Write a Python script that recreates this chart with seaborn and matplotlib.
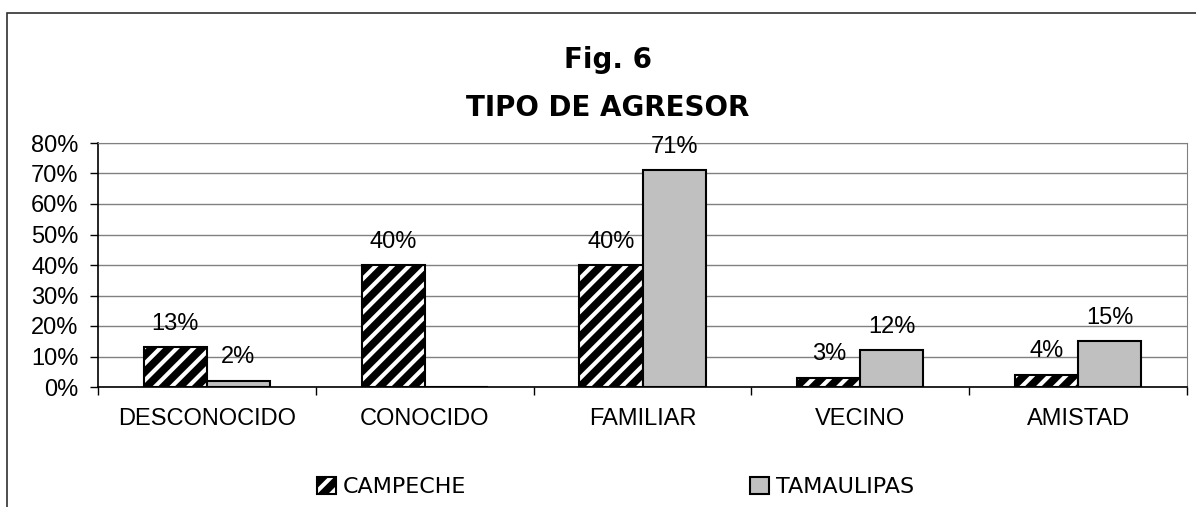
import matplotlib
matplotlib.use('Agg')
import matplotlib.pyplot as plt
import matplotlib.patches as mpatches
import pandas as pd
import seaborn as sns

# datos de la figura
categorias = ['DESCONOCIDO', 'CONOCIDO', 'FAMILIAR', 'VECINO', 'AMISTAD']
estados = ['CAMPECHE', 'TAMAULIPAS']
campeche = [13, 40, 40, 3, 4]
tamaulipas = [2, 0, 71, 12, 15]
yticks = [0, 10, 20, 30, 40, 50, 60, 70, 80]

df = pd.DataFrame({
    'tipo': categorias * 2,
    'estado': [estados[0]] * len(categorias) + [estados[1]] * len(categorias),
    'pct': campeche + tamaulipas,
})

sns.set_style('white')
plt.rcParams['font.family'] = ['Liberation Sans', 'DejaVu Sans']
plt.rcParams['hatch.linewidth'] = 5.5
for k in ['text.color', 'axes.labelcolor', 'xtick.color', 'ytick.color']:
    plt.rcParams[k] = 'black'

W, H = 1196, 507
fig = plt.figure(figsize=(W / 100, H / 100), dpi=100)
ax = fig.add_axes([98 / W, 1 - 387 / H, 1089 / W, 244 / H])

sns.barplot(data=df, x='tipo', y='pct', hue='estado', order=categorias,
            hue_order=estados, palette={'CAMPECHE': 'white', 'TAMAULIPAS': '#C0C0C0'},
            width=0.58, saturation=1, edgecolor='black', linewidth=1.5,
            legend=False, ax=ax)

for bar in ax.containers[0]:
    bar.set_hatch('//')
    bar.set_facecolor('white')

for cont in ax.containers:
    ax.bar_label(cont, labels=[f'{v:.0f}%' if v > 0 else '' for v in cont.datavalues],
                 padding=9, fontsize=17)

ax.set_xlim(-0.5, 4.5)
ax.set_ylim(0, 80)
ax.set_xlabel('')
ax.set_ylabel('')
ax.set_yticks(yticks)
ax.set_yticklabels([f'{v}%' for v in yticks])
ax.yaxis.grid(True, color='#808080', lw=1)
ax.set_axisbelow(True)

ax.tick_params(axis='y', left=True, direction='out', length=6, width=1, pad=8, labelsize=17)
ax.tick_params(axis='x', which='major', bottom=False, length=0, pad=15, labelsize=17)
ax.set_xticks([i - 0.5 for i in range(len(categorias) + 1)], minor=True)
ax.tick_params(axis='x', which='minor', bottom=True, direction='out', length=6, width=1)

for s in ['top', 'right']:
    ax.spines[s].set_color('#808080')
for s in ['left', 'bottom']:
    ax.spines[s].set_color('black')
    ax.spines[s].set_linewidth(1.2)

# titulos
fig.text(608 / W, 1 - 68 / H, 'Fig. 6', ha='center', va='baseline',
         fontsize=20, fontweight='bold', family='DejaVu Sans')
fig.text(608 / W, 1 - 116 / H, 'TIPO DE AGRESOR', ha='center', va='baseline',
         fontsize=20, fontweight='bold', family='DejaVu Sans')

# leyenda
h_camp = mpatches.Patch(facecolor='white', edgecolor='black', hatch='//', linewidth=1.5)
h_tam = mpatches.Patch(facecolor='#C0C0C0', edgecolor='black', linewidth=1.5)
for h, lab, x in [(h_camp, estados[0], 317), (h_tam, estados[1], 750)]:
    fig.legend(handles=[h], labels=[lab], loc='center left',
               bbox_to_anchor=(x / W, 1 - 487 / H), frameon=False,
               borderpad=0, borderaxespad=0, handlelength=0.85, handleheight=0.85,
               handletextpad=0.3, prop={'family': 'DejaVu Sans', 'size': 16})

# marco exterior
fig.add_artist(mpatches.Rectangle((7 / W, -0.1), 1.2, 1 - 13 / H + 0.1,
                                  transform=fig.transFigure, fill=False,
                                  edgecolor='#303030', lw=1.2, clip_on=False))

fig.savefig('out.png', dpi=100)
